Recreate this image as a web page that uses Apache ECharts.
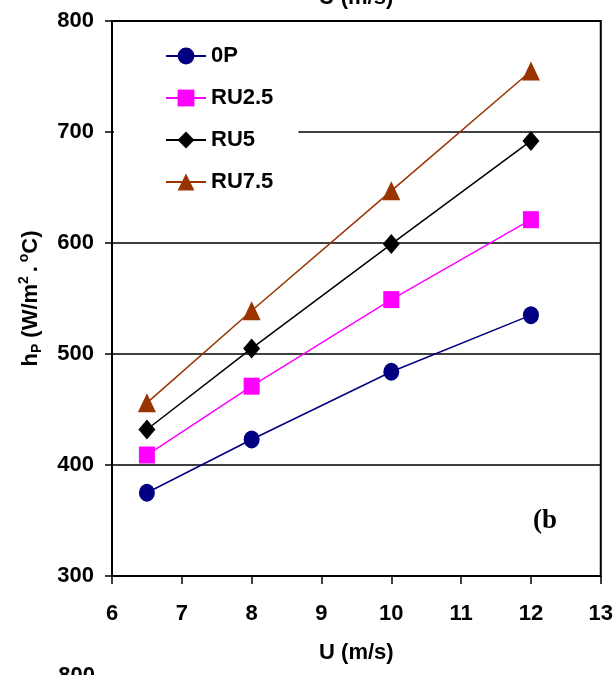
<!DOCTYPE html>
<html><head><meta charset="utf-8">
<script src="https://cdn.jsdelivr.net/npm/echarts@6/dist/echarts.min.js"></script>
<style>html,body{margin:0;padding:0;background:#fff}#c{width:616px;height:675px}</style>
</head><body><div id="c"></div>
<script>
const uValues = [6.5, 8, 10, 12];
const seriesNames = ['0P', 'RU2.5', 'RU5', 'RU7.5'];
const hp0P = [375, 423, 484, 535];
const hpRU25 = [409, 471, 549, 621];
const hpRU5 = [432, 505, 599, 692];
const hpRU75 = [456, 539, 647, 755];
const xTicks = [6, 7, 8, 9, 10, 11, 12, 13];
const yTicks = [300, 400, 500, 600, 700, 800];

const chart = echarts.init(document.getElementById('c'), null, {renderer: 'canvas'});
const F = 'Liberation Sans, Arial, sans-serif';
function mk(name, vals, color, symbol, size) {
  return {
    name: name, type: 'line', data: uValues.map((u, i) => [u, vals[i]]),
    symbol: symbol, symbolSize: size,
    lineStyle: {color: color, width: 1.5},
    itemStyle: {color: color},
    z: 3
  };
}
chart.setOption({
  animation: false,
  backgroundColor: '#fff',
  grid: {left: 112, right: 15, top: 21, bottom: 99, show: true, borderColor: '#000', borderWidth: 2, backgroundColor: 'transparent'},
  xAxis: {
    type: 'value', min: xTicks[0], max: xTicks[xTicks.length - 1], interval: 1,
    name: 'U (m/s)', nameLocation: 'middle', nameGap: 66,
    nameTextStyle: {fontFamily: F, fontWeight: 'bold', fontSize: 22, color: '#000'},
    axisLine: {show: true, lineStyle: {color: '#000', width: 2}},
    axisTick: {show: true, length: 8, lineStyle: {color: '#000', width: 1.5}},
    axisLabel: {margin: 27, fontFamily: F, fontWeight: 'bold', fontSize: 22, color: '#000'},
    splitLine: {show: false}
  },
  yAxis: {
    type: 'value', min: yTicks[0], max: yTicks[yTicks.length - 1], interval: 100,
    name: 'h{sub|P} (W/m{sup|2 }.{sup| o}C)', nameLocation: 'middle', nameGap: 68, nameRotate: 90,
    nameTextStyle: {fontFamily: F, fontWeight: 'bold', fontSize: 22, color: '#000',
      rich: {
        sub: {fontFamily: F, fontWeight: 'bold', fontSize: 14, color: '#000', verticalAlign: 'bottom', lineHeight: 27},
        sup: {fontFamily: F, fontWeight: 'bold', fontSize: 14, color: '#000', verticalAlign: 'top', lineHeight: 27}
      }},
    axisLine: {show: true, lineStyle: {color: '#000', width: 2}},
    axisTick: {show: true, length: 7, lineStyle: {color: '#000', width: 1.5}},
    axisLabel: {margin: 18, fontFamily: F, fontWeight: 'bold', fontSize: 22, color: '#000'},
    splitLine: {show: true, lineStyle: {color: '#000', width: 1.5}}
  },
  legend: {
    orient: 'vertical', left: 114, top: 31,
    padding: [14, 25, 14, 51],
    backgroundColor: '#fff',
    itemWidth: 40, itemHeight: 21, itemGap: 20,
    textStyle: {fontFamily: F, fontWeight: 'bold', fontSize: 22, color: '#000'},
    data: seriesNames
  },
  series: [
    mk(seriesNames[0], hp0P, '#000080', 'circle', [16, 18]),
    mk(seriesNames[1], hpRU25, '#FF00FF', 'rect', [16, 17]),
    mk(seriesNames[2], hpRU5, '#000000', 'diamond', [17, 20]),
    mk(seriesNames[3], hpRU75, '#993300', 'triangle', [18, 19])
  ],
  graphic: [
    {type: 'text', left: 533, top: 508, style: {text: '(b', fontFamily: 'Liberation Serif, Times New Roman, serif', fontWeight: 'bold', fontSize: 27, fill: '#000'}},
    {type: 'text', style: {x: 356, y: 9, text: 'U (m/s)', textAlign: 'center', textVerticalAlign: 'bottom', fontFamily: F, fontWeight: 'bold', fontSize: 22, fill: '#000'}},
    {type: 'text', style: {x: 95, y: 665, text: '800', textAlign: 'right', textVerticalAlign: 'top', fontFamily: F, fontWeight: 'bold', fontSize: 22, fill: '#000'}}
  ]
});
</script></body></html>
